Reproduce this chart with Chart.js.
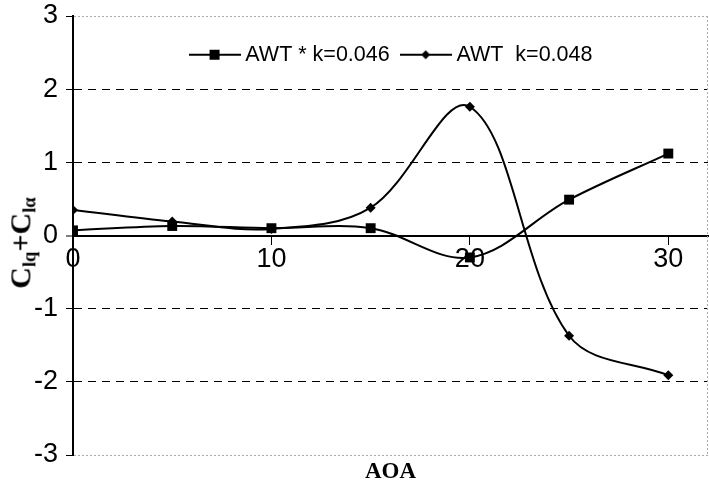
<!DOCTYPE html>
<html>
<head>
<meta charset="utf-8">
<script src="https://cdn.jsdelivr.net/npm/chart.js@4"></script>
<style>
  html, body { margin: 0; padding: 0; background: #fff; }
  #wrap { position: relative; width: 709px; height: 486px; }
  #ytitle {
    position: absolute; left: 22px; top: 243px;
    transform: translate(-50%, -50%) rotate(-90deg);
    font: bold 30px 'Liberation Serif', 'Times New Roman', serif;
    white-space: nowrap; line-height: 1; color: #000;
  }
  #ytitle sub { font-size: 0.62em; vertical-align: -0.25em; }
</style>
</head>
<body>
<div id="wrap">
  <canvas id="c" width="709" height="486"></canvas>
  <div id="ytitle">C<sub>lq</sub>+C<sub>lα</sub></div>
</div>
<script>
// ---- data ----
const aoa = [0, 5, 10, 15, 20, 25, 30];
const awtStarK046 = [0.07, 0.13, 0.10, 0.10, -0.30, 0.49, 1.12];
const awtK048 = [0.35, 0.19, 0.09, 0.38, 1.76, -1.37, -1.91];
const seriesLabels = ['AWT * k=0.046', 'AWT  k=0.048'];
const xTicks = [0, 10, 20, 30];
const yTicks = [-3, -2, -1, 0, 1, 2, 3];

function toPoints(xs, ys) { return xs.map((x, i) => ({ x: x, y: ys[i] })); }

function legendSwatch(kind) {
  const cv = document.createElement('canvas');
  cv.width = 52; cv.height = 14;
  const g = cv.getContext('2d');
  g.strokeStyle = '#000'; g.lineWidth = 2;
  g.beginPath(); g.moveTo(0, 7); g.lineTo(52, 7); g.stroke();
  g.fillStyle = '#000';
  if (kind === 'rect') {
    g.fillRect(21, 2, 10, 10);
  } else {
    g.beginPath(); g.moveTo(26, 2.5); g.lineTo(30.5, 7); g.lineTo(26, 11.5); g.lineTo(21.5, 7); g.closePath(); g.fill();
  }
  return cv;
}
const swatches = [legendSwatch('rect'), legendSwatch('rectRot')];

function noPad(s) { s.paddingLeft = 0; s.paddingRight = 0; s.paddingTop = 0; s.paddingBottom = 0; }

const legendInside = {
  id: 'legendInside',
  beforeLayout(chart) {
    const lg = chart.legend;
    if (lg && !lg._patched) {
      const orig = lg.fit;
      lg.fit = function () { orig.call(this); this._realH = this.height; this.height = 0; };
      lg._patched = true;
    }
  },
  afterLayout(chart) {
    const lg = chart.legend, ca = chart.chartArea;
    if (!lg) return;
    lg.left = ca.left + 6; lg.right = ca.right; lg.width = lg.right - lg.left;
    lg.top = 28; lg.height = lg._realH || 0; lg.bottom = lg.top + lg.height;
  }
};

const rightBorder = {
  id: 'rightBorder',
  afterDraw(chart) {
    const ca = chart.chartArea, g = chart.ctx;
    g.save();
    g.strokeStyle = '#aaa'; g.lineWidth = 1; g.setLineDash([2, 2]);
    g.beginPath(); g.moveTo(ca.right - 0.5, ca.top); g.lineTo(ca.right - 0.5, ca.bottom); g.stroke();
    g.restore();
  }
};

new Chart(document.getElementById('c'), {
  type: 'line',
  data: {
    datasets: [
      {
        label: seriesLabels[0],
        data: toPoints(aoa, awtStarK046),
        borderColor: '#000', backgroundColor: '#000', borderWidth: 2,
        pointStyle: 'rect', pointRadius: 7, pointBackgroundColor: '#000', pointBorderColor: '#000', pointBorderWidth: 0,
        tension: 0.35, fill: false
      },
      {
        label: seriesLabels[1],
        data: toPoints(aoa, awtK048),
        borderColor: '#000', backgroundColor: '#000', borderWidth: 2,
        pointStyle: 'rectRot', pointRadius: 5, pointBackgroundColor: '#000', pointBorderColor: '#000', pointBorderWidth: 0,
        tension: 0.35, fill: false
      }
    ]
  },
  options: {
    responsive: false,
    devicePixelRatio: 1,
    animation: false,
    layout: { autoPadding: false, padding: { top: 16, right: 1, left: 0, bottom: 0 } },
    plugins: {
      tooltip: { enabled: false },
      title: { display: false },
      legend: {
        display: true,
        position: 'top',
        align: 'center',
        labels: {
          usePointStyle: true,
          pointStyleWidth: 40,
          padding: 16,
          color: '#000',
          font: { family: "'Liberation Sans', Arial, sans-serif", size: 21.5 },
          generateLabels: (chart) => chart.data.datasets.map((ds, i) => ({
            text: ds.label, pointStyle: swatches[i], fillStyle: '#000', strokeStyle: '#000',
            lineWidth: 0, fontColor: '#000', hidden: false, datasetIndex: i
          }))
        }
      }
    },
    scales: {
      x: {
        type: 'linear',
        position: { y: 0 },
        min: 0, max: 32,
        afterBuildTicks: (s) => { s.ticks = xTicks.map(v => ({ value: v })); },
        afterFit: noPad,
        ticks: {
          includeBounds: false, stepSize: 10, color: '#000', padding: 0,
          font: { family: "'Liberation Sans', Arial, sans-serif", size: 27 }
        },
        grid: { drawOnChartArea: false, drawTicks: true, tickLength: 8, tickColor: '#000', tickWidth: 1 },
        border: { display: true, color: '#000', width: 2 }
      },
      x2: {
        type: 'linear',
        display: true,
        position: 'bottom',
        min: 0, max: 32,
        afterFit: (s) => { noPad(s); s.height = 31; },
        ticks: { display: false },
        grid: { display: false, drawTicks: false },
        border: { display: false },
        title: {
          display: true, text: 'AOA', color: '#000',
          padding: { top: 0, bottom: 0 },
          font: { family: "'Liberation Serif', 'Times New Roman', serif", size: 23, weight: 'bold' }
        }
      },
      y: {
        type: 'linear',
        position: 'left',
        min: -3, max: 3,
        afterFit: (s) => { noPad(s); s.width = 73; },
        afterBuildTicks: (s) => { s.ticks = yTicks.map(v => ({ value: v })); },
        ticks: {
          stepSize: 1, color: '#000', padding: 8,
          font: { family: "'Liberation Sans', Arial, sans-serif", size: 27 }
        },
        grid: {
          color: (ctx) => (ctx.tick && Math.abs(ctx.tick.value) === 3) ? '#aaa' : '#000',
          lineWidth: (ctx) => (ctx.tick && ctx.tick.value === 0) ? 2 : 1,
          drawTicks: true, tickLength: 7, tickColor: '#000', tickWidth: 1, tickBorderDash: []
        },
        border: {
          display: true, color: '#000', width: 2,
          dash: (ctx) => {
            if (!ctx.tick) return [];
            const v = ctx.tick.value;
            if (Math.abs(v) === 3) return [2, 2];
            if (v === 0) return [];
            return [8, 6];
          }
        }
      }
    }
  },
  plugins: [legendInside, rightBorder]
});
</script>
</body>
</html>
